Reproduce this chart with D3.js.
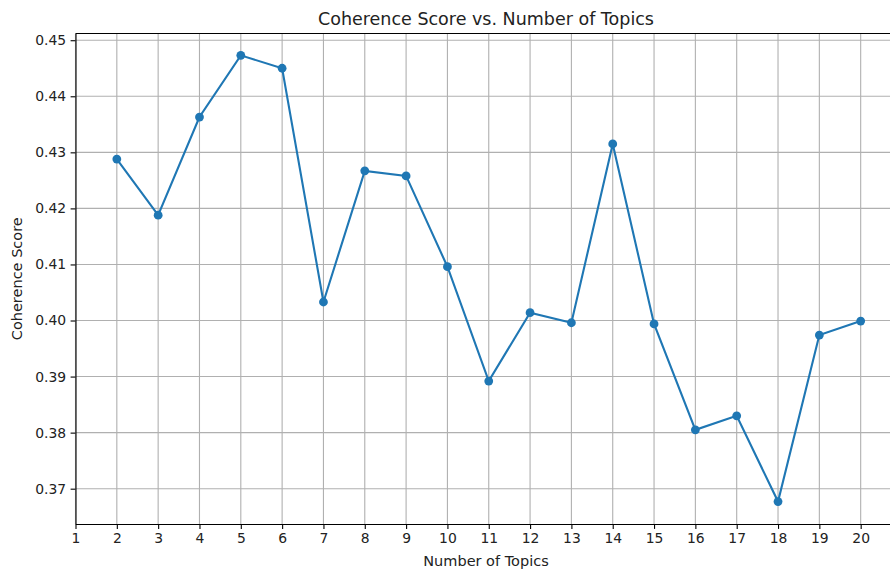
<!DOCTYPE html>
<html>
<head>
<meta charset="utf-8">
<script src="https://cdn.jsdelivr.net/npm/d3@7"></script>
<style>
  body { margin: 0; background: #fff; }
  svg { display: block; font-family: "DejaVu Sans", sans-serif; }
</style>
</head>
<body>
<div id="chart"></div>
<script>
const topics = [2, 3, 4, 5, 6, 7, 8, 9, 10, 11, 12, 13, 14, 15, 16, 17, 18, 19, 20];
const scores = [0.4288, 0.4188, 0.4363, 0.4473, 0.4450, 0.4033, 0.4267, 0.4258, 0.4096, 0.3892,
                0.4014, 0.3996, 0.4315, 0.3994, 0.3805, 0.3830, 0.3677, 0.3974, 0.3999];
const xTicks = d3.range(1, 21);
const yTicks = [0.37, 0.38, 0.39, 0.40, 0.41, 0.42, 0.43, 0.44, 0.45];

const W = 890, H = 569;
const margin = { top: 33.5, left: 75.5, bottom: 45 };
const plotRight = 902; // axes run past the cropped edge

const svg = d3.select("#chart").append("svg")
    .attr("width", W)
    .attr("height", H);

const x = d3.scaleLinear().domain([1, 21]).range([margin.left, plotRight]);
const y = d3.scaleLinear().domain([0.3637, 0.4512]).range([H - margin.bottom, margin.top]);

// grid
svg.append("g").selectAll("line").data(xTicks).join("line")
    .attr("x1", d => x(d)).attr("x2", d => x(d))
    .attr("y1", y.range()[0]).attr("y2", y.range()[1])
    .attr("stroke", "#b0b0b0").attr("stroke-width", 1.1);
svg.append("g").selectAll("line").data(yTicks).join("line")
    .attr("x1", margin.left).attr("x2", plotRight)
    .attr("y1", d => y(d)).attr("y2", d => y(d))
    .attr("stroke", "#b0b0b0").attr("stroke-width", 1.1);

// axes
const xAxis = svg.append("g")
    .attr("transform", `translate(0,${y.range()[0]})`)
    .call(d3.axisBottom(x).tickValues(xTicks).tickFormat(d3.format("d")).tickSize(4.9).tickPadding(4.5).tickSizeOuter(0));
const yAxis = svg.append("g")
    .attr("transform", `translate(${margin.left},0)`)
    .call(d3.axisLeft(y).tickValues(yTicks).tickFormat(d3.format(".2f")).tickSize(4.9).tickPadding(4.5).tickSizeOuter(0));

[xAxis, yAxis].forEach(g => {
    g.select(".domain").attr("stroke", "#000").attr("stroke-width", 1.1);
    g.selectAll(".tick line").attr("stroke", "#000").attr("stroke-width", 1.1);
    g.selectAll("text").attr("fill", "#222").style("font-size", "13.9px").style("font-family", "DejaVu Sans");
});

// top spine
svg.append("line")
    .attr("x1", margin.left).attr("x2", plotRight)
    .attr("y1", y.range()[1]).attr("y2", y.range()[1])
    .attr("stroke", "#000").attr("stroke-width", 1.1);

// series
const line = d3.line().x((d, i) => x(topics[i])).y(d => y(d));
svg.append("path")
    .datum(scores)
    .attr("d", line)
    .attr("fill", "none")
    .attr("stroke", "#1f77b4")
    .attr("stroke-width", 2.1);

svg.append("g").selectAll("circle").data(scores).join("circle")
    .attr("cx", (d, i) => x(topics[i]))
    .attr("cy", d => y(d))
    .attr("r", 4.4)
    .attr("fill", "#1f77b4");

// labels
svg.append("text")
    .attr("x", 486).attr("y", 24.5)
    .attr("text-anchor", "middle")
    .attr("fill", "#222")
    .style("font-size", "17.5px")
    .text("Coherence Score vs. Number of Topics");

svg.append("text")
    .attr("x", 486).attr("y", 566)
    .attr("text-anchor", "middle")
    .attr("fill", "#222")
    .style("font-size", "14.5px")
    .text("Number of Topics");

svg.append("text")
    .attr("transform", `translate(22,${(y.range()[0] + y.range()[1]) / 2}) rotate(-90)`)
    .attr("text-anchor", "middle")
    .attr("fill", "#222")
    .style("font-size", "14.5px")
    .text("Coherence Score");
</script>
</body>
</html>
